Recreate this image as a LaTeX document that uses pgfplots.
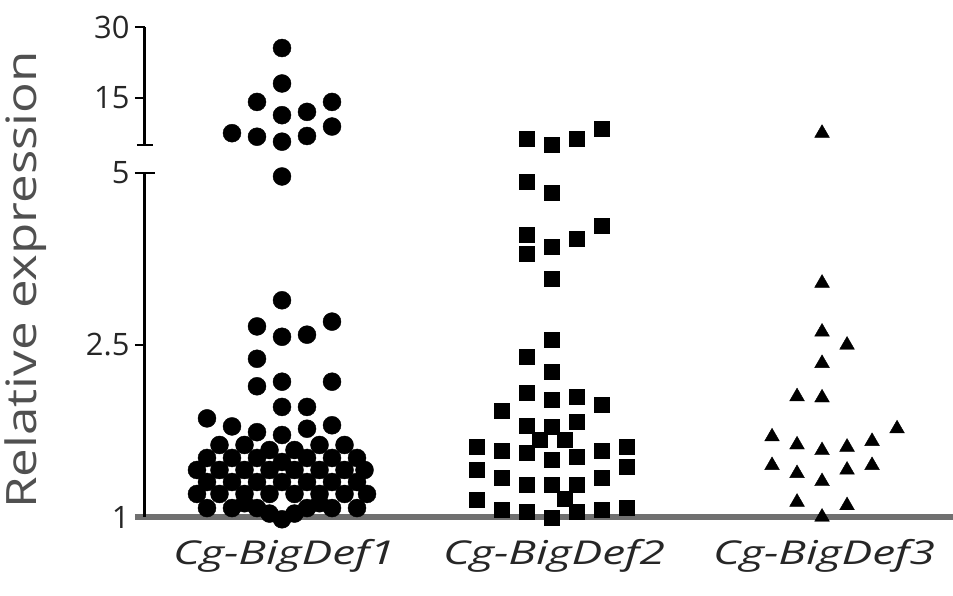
\documentclass[border=0pt]{standalone}
\usepackage{pgfplots}
\pgfplotsset{compat=1.18}
\usepackage{pgfplotstable}
\usepackage{fontspec}
\setmainfont{Open Sans}
\newfontfamily\catfont[FakeStretch=1.4]{Open Sans}
\newfontfamily\ylabfont[FakeStretch=1.22]{Open Sans}
\definecolor{txt}{HTML}{262626}
\definecolor{ylab}{HTML}{505050}
\definecolor{xline}{HTML}{707070}

% c = category, k = swarm column offset, v = relative expression
\pgfplotstableread{
c k v
1 0 25.5
1 0 18.0
1 -1 14.1
1 2 14.1
1 0 11.3
1 1 12.0
1 -2 7.5
1 -1 6.75
1 0 5.7
1 1 6.9
1 2 8.9
1 0 4.95
1 0 3.15
1 -1 2.77
1 2 2.84
1 0 2.62
1 1 2.65
1 -1 2.38
1 -1 2.14
1 0 2.18
1 2 2.18
1 0 1.96
1 1 1.96
1 -3 1.86
1 -2 1.79
1 -1 1.74
1 1 1.77
1 2 1.80
1 0 1.715
1 -2.5 1.628
1 -1.5 1.628
1 1.5 1.628
1 2.5 1.628
1 -0.5 1.584
1 0.5 1.584
1 -3 1.515
1 -2 1.515
1 -1 1.515
1 1 1.515
1 2 1.515
1 3 1.515
1 0 1.48
1 -3.4 1.41
1 -2.5 1.41
1 -1.5 1.41
1 -0.5 1.41
1 0.5 1.41
1 1.5 1.41
1 2.5 1.41
1 3.3 1.41
1 -3 1.305
1 -2 1.305
1 -1 1.305
1 0 1.305
1 1 1.305
1 2 1.305
1 3 1.305
1 -3.4 1.201
1 -2.5 1.201
1 -1.5 1.201
1 -0.5 1.201
1 0.5 1.201
1 1.5 1.201
1 2.5 1.201
1 3.4 1.201
1 -3 1.078
1 -2 1.078
1 -1 1.078
1 1 1.078
1 2 1.078
1 3 1.078
1 -1.5 1.12
1 1.5 1.12
1 -0.5 1.03
1 0.5 1.03
1 0 0.98
}\defone

\pgfplotstableread{
c k v
2 -1 6.4
2 0 5.05
2 1 6.4
2 2 8.5
2 -1 4.87
2 0 4.71
2 -1 4.10
2 -1 3.83
2 0 3.93
2 1 4.05
2 2 4.24
2 0 3.47
2 0 2.57
2 -1 2.40
2 0 2.27
2 -1 2.08
2 0 2.02
2 1 2.05
2 2 1.98
2 -2 1.93
2 -1 1.80
2 0 1.79
2 1 1.83
2 -0.5 1.67
2 0.5 1.67
2 -1 1.56
2 0 1.50
2 1 1.53
2 -3 1.61
2 -2 1.58
2 2 1.58
2 3 1.61
2 -3 1.41
2 3 1.44
2 -2 1.34
2 2 1.34
2 -1 1.28
2 0 1.28
2 1 1.28
2 0.5 1.16
2 -3 1.15
2 -2 1.06
2 -1 1.05
2 0 0.99
2 1 1.05
2 2 1.06
2 3 1.08
}\deftwo

\pgfplotstableread{
c k v
3 0 7.5
3 0 3.40
3 0 2.69
3 1 2.5
3 0 2.34
3 -1 2.05
3 0 2.04
3 3 1.77
3 -2 1.70
3 -1 1.63
3 0 1.58
3 1 1.61
3 2 1.66
3 -2 1.45
3 -1 1.38
3 0 1.31
3 1 1.41
3 2 1.45
3 -1 1.13
3 1 1.10
3 0 1.00
}\defthree

\newcommand{\brk}{\thisrow{v}<=2.5 ? (\thisrow{v}-1)/1.5 : (\thisrow{v}<=5 ? 1+(\thisrow{v}-2.5)/2.5 : 2.163+(\thisrow{v}-5)*0.0275)}

\begin{document}
\begin{tikzpicture}
\begin{axis}[
  scale only axis, width=808bp, height=490bp,
  xmin=0.4926, xmax=3.485, ymin=0, ymax=2.849,
  axis lines*=left,
  y axis line style={draw=none},
  x axis line style={draw=xline, line width=6bp, shorten <=-10bp},
  clip=false,
  xtick={1,2,3},
  xticklabels={Cg-BigDef1,Cg-BigDef2,Cg-BigDef3},
  x tick style={draw=none},
  xticklabel style={font=\catfont\itshape\fontsize{33}{36}\selectfont, text=txt, anchor=base, yshift=-37bp, xshift=2bp},
  ytick={0,1,2,2.436,2.849},
  yticklabels={1,2.5,5,15,30},
  tick align=outside,
  major tick length=10bp,
  y tick style={line width=2.5bp, black},
  yticklabel style={font=\fontsize{31}{34}\selectfont, text=txt, xshift=-2bp},
  ylabel={Relative expression},
  every axis y label/.style={at={([xshift=-119bp]rel axis cs:0,0.484)}, rotate=90, anchor=center, font=\ylabfont\fontsize{42}{46}\selectfont, text=ylab},
]
\addplot[only marks, mark=*, mark size=9bp, black] table[x expr=\thisrow{c}+0.0926*\thisrow{k}, y expr={\brk}] {\defone};
\addplot[only marks, mark=square*, mark size=7.5bp, black] table[x expr=\thisrow{c}+0.0926*\thisrow{k}, y expr={\brk}] {\deftwo};
\addplot[only marks, mark=triangle*, mark size=8.5bp, black] table[x expr=\thisrow{c}+0.0926*\thisrow{k}, y expr={\brk}] {\defthree};
\draw[line width=3bp, black] (axis cs:0.4926,0) -- (axis cs:0.4926,2);
\draw[line width=2.5bp, black] ([xshift=-10bp]axis cs:0.4926,2) -- ([xshift=10bp]axis cs:0.4926,2);
\draw[line width=3bp, black] (axis cs:0.4926,2.163) -- (axis cs:0.4926,2.849);
\draw[line width=2.5bp, black] ([xshift=-8bp]axis cs:0.4926,2.163) -- ([xshift=8bp]axis cs:0.4926,2.163);
\coordinate (SW) at (rel axis cs:0,0);
\coordinate (NE) at (rel axis cs:1,1);
\end{axis}
\pgfresetboundingbox
\path ([shift={(-145bp,-79bp)}]SW) rectangle ([shift={(0bp,27bp)}]NE);
\end{tikzpicture}
\end{document}
